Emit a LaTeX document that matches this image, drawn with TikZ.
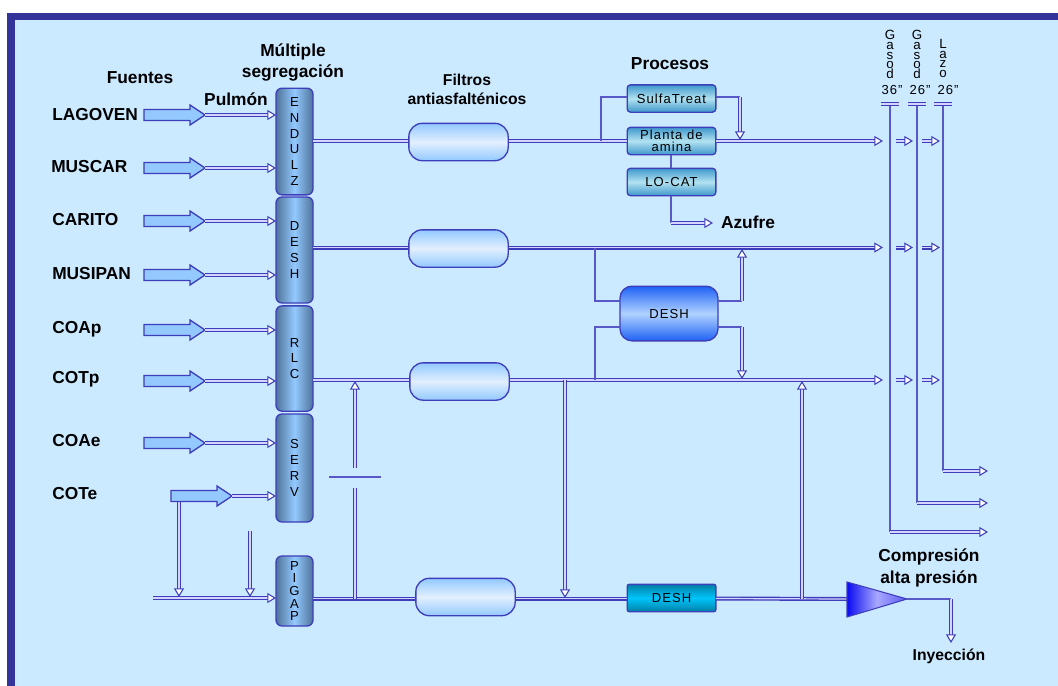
\documentclass[tikz,border=0pt]{standalone}
\usepackage{fontspec}
\setmainfont{Liberation Sans}
\usetikzlibrary{arrows.meta}
\definecolor{bgc}{HTML}{CBE9FF}
\definecolor{framec}{HTML}{333399}
\definecolor{linec}{HTML}{3E3EBA}
\definecolor{corec}{HTML}{D4D4FF}
\definecolor{thinc}{HTML}{5858C6}
\definecolor{fatc}{HTML}{93C9FF}
\definecolor{mandark}{HTML}{4F7399}
\definecolor{filtlight}{HTML}{E2EFFF}
\definecolor{procdark}{HTML}{3E98CC}
\definecolor{proclight}{HTML}{B2E2F0}
\definecolor{deshdark}{HTML}{1F62F5}
\definecolor{deshlight}{HTML}{B0D2FF}
\definecolor{lowdark}{HTML}{007FA6}
\definecolor{lowlight}{HTML}{00C4FA}
\definecolor{compa}{HTML}{0A0AF0}
\definecolor{compb}{HTML}{A8A8FF}
\definecolor{compc}{HTML}{5A5AF0}
\newcommand{\tit}{\bfseries\fontsize{13pt}{16.2pt}\selectfont}
\newcommand{\titb}{\bfseries\fontsize{11.8pt}{14.4pt}\selectfont}
\newcommand{\srcf}{\bfseries\fontsize{13pt}{15pt}\selectfont}
\newcommand{\boxf}{\addfontfeature{LetterSpace=8}\fontsize{9.8pt}{11.85pt}\selectfont}
\newcommand{\fatarrow}[3]{%
  \draw[fatarrow] ({#2},{#3-5.5}) -- ({#2+46},{#3-5.5}) -- ({#2+46},{#3-10}) -- ({#2+61},{#3})
    -- ({#2+46},{#3+10}) -- ({#2+46},{#3+5.5}) -- ({#2},{#3+5.5}) -- cycle;
  \coordinate (#1) at ({#2+61},{#3});}
\tikzset{
  x=0.75pt,y=-0.75pt,
  thinl/.style={draw=thinc,line width=1.5pt},
  pipe/.style={draw=linec,line width=1.05pt,double=corec,double distance=0.9pt},
  tipw/.style={-{Triangle[length=6.5pt,width=7.5pt,fill=white,color=linec,line width=0.8pt]}},
  fatarrow/.style={draw=linec,fill=fatc,line width=1pt},
  boxbase/.style={draw=linec,line width=1pt,inner sep=0pt,outer sep=0pt,align=center,text=black},
  manifold/.style={boxbase,minimum width=27.75pt,rounded corners=4.5pt,
    left color=mandark,right color=mandark,middle color=fatc,font=\boxf},
  filtro/.style={boxbase,minimum width=74.5pt,minimum height=28pt,rounded corners=10pt,
    top color=fatc,bottom color=fatc,middle color=filtlight},
  proceso/.style={boxbase,minimum width=66.5pt,minimum height=20.5pt,rounded corners=2.5pt,
    top color=procdark,bottom color=procdark,middle color=proclight,font=\boxf},
  deshbig/.style={boxbase,minimum width=73.5pt,minimum height=41pt,rounded corners=9pt,
    top color=deshdark,bottom color=deshdark,middle color=deshlight,font=\boxf},
  deshlow/.style={boxbase,minimum width=66.5pt,minimum height=20.5pt,rounded corners=1.5pt,
    top color=lowdark,bottom color=lowdark,middle color=lowlight,font=\boxf},
  titulo/.style={font=\tit,align=center,inner sep=0pt,text=black},
  titulob/.style={font=\titb,align=center,inner sep=0pt,text=black},
  fuente/.style={font=\srcf,anchor=west,inner sep=0pt,text=black},
  gasl/.style={font=\fontsize{10pt}{7.4pt}\selectfont,align=center,inner sep=0pt},
  gasn/.style={font=\boxf,inner sep=0pt},
}
\begin{document}
\begin{tikzpicture}
\useasboundingbox (0,0) rectangle (1058,686);
\fill[white] (0,0) rectangle (1058,686);
\fill[framec] (7,13) rectangle (1058,686);
\fill[bgc] (15,20) rectangle (1058,686);

% coordinates of junctions and free ends
\coordinate (y1) at (0,141);
\coordinate (y2) at (0,247.5);
\coordinate (y3) at (0,380);
\coordinate (y4) at (0,598.5);
\coordinate (tip1) at (883,141);
\coordinate (tip2) at (883,247.5);
\coordinate (tip3) at (883,380);
\coordinate (gas1top) at (890,104);
\coordinate (gas2top) at (917,104);
\coordinate (gas3top) at (943,104);
\coordinate (gas1c) at (890,532);
\coordinate (gas2c) at (917,503);
\coordinate (gas3c) at (943,471);
\coordinate (gas1e) at (988,532);
\coordinate (gas2e) at (988,503);
\coordinate (gas3e) at (988,471);
\coordinate (by1) at (601,141);
\coordinate (by2) at (601,97);
\coordinate (by3) at (740,97);
\coordinate (by4) at (740,140);
\coordinate (az1) at (671,223);
\coordinate (az2) at (713,223);
\coordinate (l1) at (595,247.5);
\coordinate (l2) at (595,301);
\coordinate (l3) at (595,327);
\coordinate (l4) at (595,380);
\coordinate (r1) at (742,301);
\coordinate (r2) at (742,249);
\coordinate (r3) at (742,327);
\coordinate (r4) at (742,379);
\coordinate (v1) at (355,599);
\coordinate (v2) at (355,488);
\coordinate (v3) at (355,468);
\coordinate (v4) at (355,381);
\coordinate (c1) at (329,477);
\coordinate (c2) at (381,477);
\coordinate (d1) at (565,380);
\coordinate (d2) at (565,598);
\coordinate (u1) at (802,599);
\coordinate (u2) at (802,381);
\coordinate (in0) at (153,598);
\coordinate (in1) at (179,501.5);
\coordinate (in2) at (179,597);
\coordinate (in3) at (250,531);
\coordinate (in4) at (250,597);
\coordinate (o1) at (951,599);
\coordinate (o2) at (951,643);
\coordinate (compin) at (847,599);
\coordinate (compout) at (907,599);

% titles
\node[titulo] (tf) at (140,78) {Fuentes};
\node[titulo] (tm) at (293,62.5) {Múltiple\\segregación};
\node[titulo] (tp) at (236,99) {Pulmón};
\node[titulob] (tfi) at (467,89) {Filtros\\antiasfalténicos};
\node[titulo] (tpr) at (670,64) {Procesos};
\node[titulo] (taz) at (748,222) {Azufre};
\node[titulo] (tco) at (929,568) {Compresión\\alta presión};
\node[titulob] (tin) at (949,656) {Inyección};

% sources
\node[fuente] (s1) at (52,115) {LAGOVEN};
\node[fuente] (s2) at (51,167) {MUSCAR};
\node[fuente] (s3) at (52,220) {CARITO};
\node[fuente] (s4) at (52,274) {MUSIPAN};
\node[fuente] (s5) at (52,329) {COAp};
\node[fuente] (s6) at (52,379) {COTp};
\node[fuente] (s7) at (52,441) {COAe};
\node[fuente] (s8) at (52,494) {COTe};

% gas labels
\node[gasl] (g1) at (890,54.5) {G\\a\\s\\o\\d};
\node[gasl] (g2) at (917,54.5) {G\\a\\s\\o\\d};
\node[gasl] (g3) at (943,58.5) {L\\a\\z\\o};
\node[gasn] (n1) at (892,90) {36"};
\node[gasn] (n2) at (920,90) {26"};
\node[gasn] (n3) at (948,90) {26"};

% manifold
\node[manifold,minimum height=80pt] (endulz) at (294.5,141.5) {E\\N\\D\\U\\L\\Z};
\node[manifold,minimum height=79.5pt] (desh) at (294.5,250) {D\\E\\S\\H};
\node[manifold,minimum height=79pt] (rlc) at (294.5,358.5) {R\\L\\C};
\node[manifold,minimum height=81pt] (serv) at (294.5,468) {S\\E\\R\\V};
\node[manifold,minimum height=52.5pt,font={\boxf\baselineskip=9.4pt}] (pigap) at (294.5,591) {P\\I\\G\\A\\P};

% processes
\node[proceso] (sulfa) at (671.5,98.5) {SulfaTreat};
\node[proceso,font={\boxf\baselineskip=9pt}] (amina) at (671.5,141) {Planta de\\amina};
\node[proceso] (locat) at (671.5,182) {LO-CAT};
\node[deshbig] (dbig) at (669,313.5) {DESH};
\node[deshlow] (dlow) at (671.5,598) {DESH};

% pipes
\draw[pipe] (endulz.east |- y1) -- (amina.west |- y1);
\draw[pipe,tipw] (amina.east |- y1) -- (tip1);
\draw[pipe,tipw] (desh.east |- y2) -- (tip2);
\draw[pipe,tipw] (rlc.east |- y3) -- (tip3);
\draw[pipe] (pigap.east |- y4) -- (dlow.west |- y4);
\draw[pipe] (dlow.east |- y4) -- (compin);
\draw[pipe,tipw] (in0) -- (pigap.west |- in0);
\draw[pipe,tipw] (in1) -- (in2);
\draw[pipe,tipw] (in3) -- (in4);
\draw[pipe] (v1) -- (v2);
\draw[pipe,tipw] (v3) -- (v4);
\draw[draw=thinc,line width=1pt] (c1) -- (c2);
\draw[pipe,tipw] (d1) -- (d2);
\draw[pipe,tipw] (u1) -- (u2);

% filters, on the pipes
\node[filtro] (f1) at (458.5,142) {};
\node[filtro] (f2) at (458.5,248.5) {};
\node[filtro] (f3) at (459.5,381.5) {};
\node[filtro] (f4) at (465.5,597) {};

% processes connections
\draw[thinl] (by1) -- (by2) -- (sulfa.west |- by2);
\draw[thinl] (sulfa.east |- by3) -- (by3);
\draw[pipe,tipw] (by3) -- (by4);
\draw[thinl] (amina.south -| az1) -- (locat.north -| az1);
\draw[thinl] (locat.south -| az1) -- (az1);
\draw[pipe,tipw] (az1) -- (az2);

% DESH connections
\draw[thinl] (l1) -- (l2) -- (dbig.west |- l2);
\draw[thinl] (l4) -- (l3) -- (dbig.west |- l3);
\draw[thinl] (dbig.east |- r1) -- (r1);
\draw[thinl] (dbig.east |- r3) -- (r3);
\draw[pipe,tipw] (r1) -- (r2);
\draw[pipe,tipw] (r3) -- (r4);

% gas columns
\foreach \a/\b/\c in {gas1top/gas1c/gas1e,gas2top/gas2c/gas2e,gas3top/gas3c/gas3e}{
  \draw[thinl] (\a) -- (\b);
  \draw[pipe,tipw] (\b) -- (\c);
}
\foreach \a in {gas1top,gas2top,gas3top}
  \draw[pipe] ([xshift=-6.75pt]\a) -- ([xshift=6.75pt]\a);
\foreach \yy in {tip1,tip2,tip3}{
  \draw[pipe,tipw] ([xshift=9.75pt]\yy) -- ([xshift=22.5pt]\yy);
  \draw[pipe,tipw] ([xshift=29.25pt]\yy) -- ([xshift=42.75pt]\yy);
}

% compressor
\shade[left color=compa,right color=compc,middle color=compb,draw=linec,line width=0.8pt]
  (847,582) -- (907,599) -- (847,617) -- cycle;
\draw[thinl] (compout) -- (o1);
\draw[pipe,tipw] (o1) -- (o2);

% source arrows
\fatarrow{a1}{144}{115}
\fatarrow{a2}{144}{168}
\fatarrow{a3}{144}{221}
\fatarrow{a4}{144}{275}
\fatarrow{a5}{144}{330}
\fatarrow{a6}{144}{381}
\fatarrow{a7}{144}{443}
\fatarrow{a8}{171}{496}
\foreach \n in {a1,a2,a3,a4,a5,a6,a7,a8}
  \draw[pipe,tipw] (\n) -- (endulz.west |- \n);
\end{tikzpicture}
\end{document}
